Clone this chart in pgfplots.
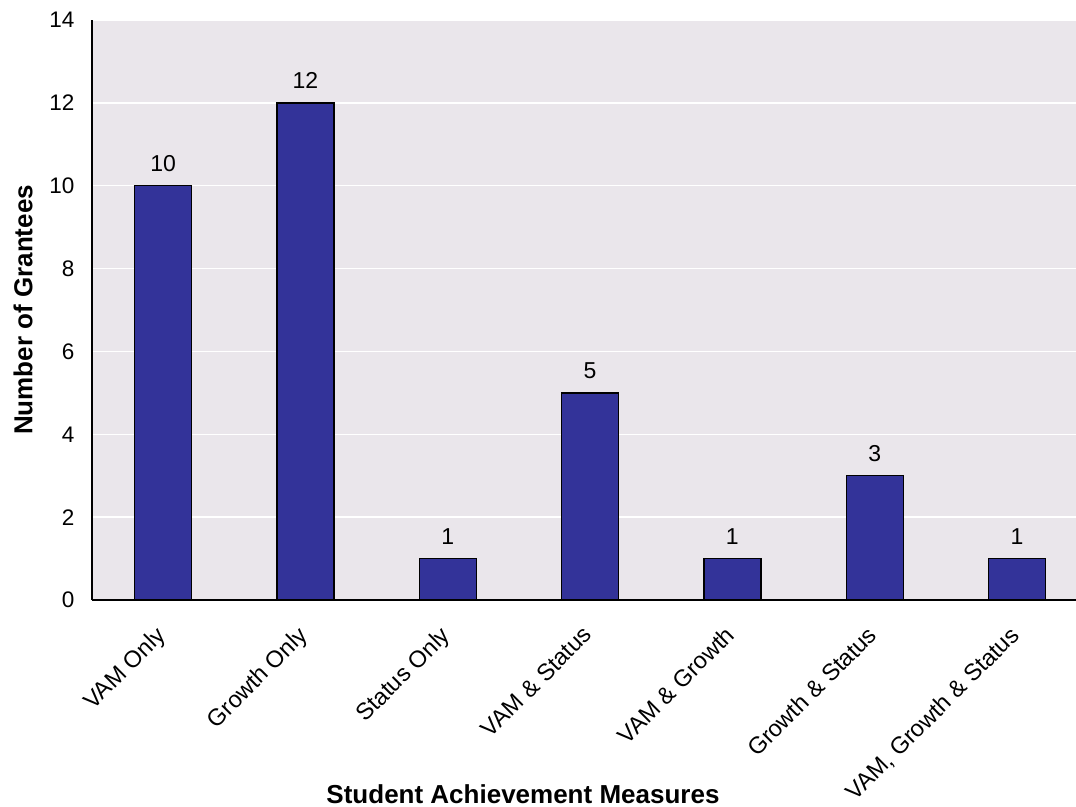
\documentclass[border=0pt]{standalone}
\usepackage{pgfplots}
\pgfplotsset{compat=1.18}
\usepackage{fontspec}
\setmainfont{Liberation Sans}
\definecolor{barcol}{RGB}{51,51,153}
\definecolor{bgcol}{RGB}{234,230,235}
\begin{document}
\begin{tikzpicture}
\begin{axis}[
  name=ax,
  scale only axis,
  width=984pt, height=580pt,
  xmin=-0.5, xmax=6.415,
  ymin=0, ymax=14,
  ytick={0,2,...,14},
  xtick={0,1,2,3,4,5,6},
  xticklabels={VAM Only,Growth Only,Status Only,VAM \& Status,VAM \& Growth,Growth \& Status,{VAM, Growth \& Status}},
  axis x line*=bottom,
  axis y line*=left,
  axis line style={black, line width=1.3pt, -},
  major tick length=0pt,
  ymajorgrids,
  grid style={white, line width=1.5pt},
  axis background/.style={fill=bgcol},
  /pgf/number format/assume math mode=true,
  yticklabel style={font=\fontsize{22.5}{26}\selectfont, black, xshift=-14pt},
  xticklabel style={font=\fontsize{23.5}{28}\selectfont, black, rotate=45, anchor=north east, xshift=-20pt, yshift=-8pt},
  xlabel={Student Achievement Measures},
  ylabel={Number of Grantees},
  label style={font=\fontsize{26}{30}\selectfont\bfseries},
  xlabel style={at={(axis description cs:0.438,-0.3517)}, anchor=base},
  ylabel style={at={(axis description cs:-0.0701,0.5)}, anchor=center},
  ybar,
  bar width=57pt,
  nodes near coords,
  nodes near coords style={font=\fontsize{23}{26}\selectfont, yshift=10pt},
  clip=false,
]
\addplot[fill=barcol, draw=black, line width=1.3pt] coordinates {(0,10) (1,12) (2,1) (3,5) (4,1) (5,3) (6,1)};
\end{axis}
\pgfresetboundingbox
\path ([xshift=-92pt,yshift=-206pt]ax.south west) rectangle ([yshift=20pt]ax.north east);
\end{tikzpicture}
\end{document}
